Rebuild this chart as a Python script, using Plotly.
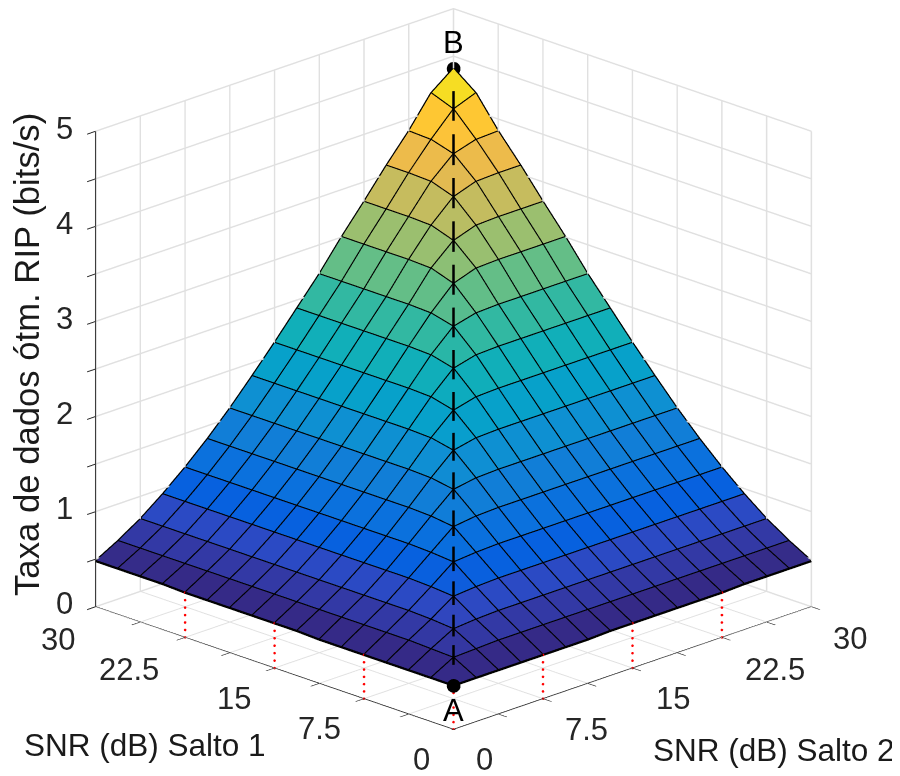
import plotly.graph_objects as go

snr = [0, 1.875, 3.75, 5.625, 7.5, 9.375, 11.25, 13.125, 15, 16.875, 18.75, 20.625, 22.5, 24.375, 26.25, 28.125, 30]
rate = [
 [.46,.46,.46,.46,.46,.46,.46,.47,.47,.47,.47,.47,.47,.48,.48,.48,.48],
 [.46,.59,.60,.61,.61,.61,.61,.61,.61,.61,.61,.61,.61,.61,.61,.61,.61],
 [.46,.60,.73,.75,.76,.76,.76,.76,.76,.76,.76,.76,.76,.76,.76,.76,.76],
 [.46,.61,.75,.91,.93,.94,.94,.94,.94,.94,.94,.94,.94,.94,.94,.94,.94],
 [.46,.61,.76,.93,1.11,1.13,1.14,1.14,1.14,1.14,1.14,1.14,1.14,1.14,1.14,1.14,1.14],
 [.46,.61,.76,.94,1.13,1.32,1.35,1.36,1.36,1.36,1.36,1.36,1.36,1.36,1.36,1.36,1.36],
 [.46,.61,.76,.94,1.14,1.35,1.55,1.59,1.60,1.60,1.60,1.60,1.60,1.60,1.60,1.60,1.60],
 [.47,.61,.76,.94,1.14,1.36,1.59,1.80,1.85,1.86,1.86,1.86,1.86,1.86,1.86,1.86,1.86],
 [.47,.61,.76,.94,1.14,1.36,1.60,1.85,2.06,2.12,2.13,2.13,2.13,2.13,2.13,2.13,2.13],
 [.47,.61,.76,.94,1.14,1.36,1.60,1.86,2.12,2.34,2.40,2.41,2.41,2.41,2.41,2.41,2.41],
 [.47,.61,.76,.94,1.14,1.36,1.60,1.86,2.13,2.40,2.62,2.68,2.69,2.69,2.69,2.69,2.69],
 [.47,.61,.76,.94,1.14,1.36,1.60,1.86,2.13,2.41,2.68,2.91,2.99,3.00,3.00,3.00,3.00],
 [.47,.61,.76,.94,1.14,1.36,1.60,1.86,2.13,2.41,2.69,2.99,3.20,3.28,3.29,3.29,3.29],
 [.48,.61,.76,.94,1.14,1.36,1.60,1.86,2.13,2.41,2.69,3.00,3.28,3.50,3.58,3.59,3.59],
 [.48,.61,.76,.94,1.14,1.36,1.60,1.86,2.13,2.41,2.69,3.00,3.29,3.58,3.79,3.86,3.87],
 [.48,.61,.76,.94,1.14,1.36,1.60,1.86,2.13,2.41,2.69,3.00,3.29,3.59,3.86,4.10,4.19],
 [.48,.61,.76,.94,1.14,1.36,1.60,1.86,2.13,2.41,2.69,3.00,3.29,3.59,3.87,4.19,4.37],
]
snr_ticks = [0, 3.75, 7.5, 11.25, 15, 18.75, 22.5, 26.25, 30]
snr_labels = [0, 7.5, 15, 22.5, 30]
snr_label_text = ["0", "7.5", "15", "22.5", "30"]
rate_ticks = [0, .5, 1, 1.5, 2, 2.5, 3, 3.5, 4, 4.5, 5]
rate_labels = [0, 1, 2, 3, 4, 5]
red_marks = [0, 7.5, 15, 22.5]
parula = [
 [0.000,"#352a87"],[0.063,"#3244ba"],[0.095,"#2053d4"],[0.127,"#0363e1"],[0.190,"#0d75dc"],
 [0.254,"#1485d4"],[0.317,"#0998d1"],[0.381,"#06a7c6"],[0.444,"#15b1b4"],[0.508,"#38b99e"],
 [0.571,"#65be86"],[0.635,"#92bf73"],[0.698,"#b7bd64"],[0.762,"#d9ba56"],[0.825,"#f8bb44"],
 [0.873,"#fec832"],[0.937,"#f5de22"],[1.000,"#f9fb0e"],
]

n = len(snr)
vx, vy, vz, fi, fj, fk, cell = [], [], [], [], [], [], []
for a in range(n):
    for b in range(n):
        vx.append(snr[b]); vy.append(snr[a]); vz.append(rate[a][b])
for a in range(n - 1):
    for b in range(n - 1):
        p = a * n + b
        fi += [p, p]
        fj += [p + 1, p + n + 1]
        fk += [p + n + 1, p + n]
        cell += [rate[a][b], rate[a][b]]

fig = go.Figure()
fig.add_trace(go.Mesh3d(
    x=vx, y=vy, z=vz, i=fi, j=fj, k=fk, intensity=cell, intensitymode="cell",
    colorscale=parula, cmin=rate[0][0], cmax=rate[-1][-1], showscale=False, flatshading=True,
    lighting=dict(ambient=1, diffuse=0, specular=0, fresnel=0, roughness=1),
    hoverinfo="skip"))

wx, wy, wz = [], [], []
for a in range(n):
    for b in range(n):
        wx.append(snr[b]); wy.append(snr[a]); wz.append(rate[a][b])
    wx.append(None); wy.append(None); wz.append(None)
    for b in range(n):
        wx.append(snr[a]); wy.append(snr[b]); wz.append(rate[b][a])
    wx.append(None); wy.append(None); wz.append(None)
fig.add_trace(go.Scatter3d(x=wx, y=wy, z=wz, mode="lines", line=dict(color="black", width=4.5), hoverinfo="skip"))

rx, ry, rz = [], [], []
dots = 6
for v in red_marks:
    idx = snr.index(v)
    for q in range(dots + 1):
        rx += [v, 0]
        ry += [0, v]
        rz += [rate[0][idx] * q / dots, rate[idx][0] * q / dots]
fig.add_trace(go.Scatter3d(x=rx, y=ry, z=rz, mode="markers", marker=dict(color="#ff0000", size=1.5, line=dict(width=0)), hoverinfo="skip"))

diag = [rate[a][a] for a in range(n)]
dx, dy, dz = [], [], []
for a in range(1, n - 1):
    lo, hi = 0.25, 0.45
    dx += [snr[a] + lo * (snr[a-1] - snr[a]), snr[a], snr[a] + hi * (snr[a+1] - snr[a]), None]
    dy += [snr[a] + lo * (snr[a-1] - snr[a]), snr[a], snr[a] + hi * (snr[a+1] - snr[a]), None]
    dz += [diag[a] + lo * (diag[a-1] - diag[a]), diag[a], diag[a] + hi * (diag[a+1] - diag[a]), None]
fig.add_trace(go.Scatter3d(x=dx, y=dy, z=dz, mode="lines", line=dict(color="black", width=5), hoverinfo="skip"))
fig.add_trace(go.Scatter3d(x=[snr[0], snr[-1]], y=[snr[0], snr[-1]], z=[diag[0], diag[-1]], mode="markers",
                           marker=dict(color="black", size=8), hoverinfo="skip"))

def axis(vals, rng):
    return dict(range=rng, tickvals=vals, showticklabels=False, title=dict(text=""), showbackground=False,
                showgrid=True, gridcolor="#e0e0e0", gridwidth=3, showline=True, linecolor="#262626", linewidth=2,
                ticks="outside", ticklen=12, tickcolor="#262626", tickwidth=2,
                zeroline=False, showspikes=False, autorange=False)

tick_font = dict(family="Liberation Sans", size=31, color="#262626")
left_shift = {0: (-32, -30), 7.5: (-45, -30), 15: (-41, -31), 22.5: (-56, -32), 30: (-38, -33)}
right_shift = {0: (31, -30), 7.5: (44, -31), 15: (41, -31), 22.5: (53, -32), 30: (39, -32)}
scene_notes = []
for v, t in zip(snr_labels, snr_label_text):
    s = left_shift[v]
    scene_notes.append(dict(x=0, y=v, z=0, text=t, showarrow=False, xshift=s[0], yshift=s[1], font=tick_font))
    s = right_shift[v]
    scene_notes.append(dict(x=v, y=0, z=0, text=t, showarrow=False, xshift=s[0], yshift=s[1], font=tick_font))
for v in rate_labels:
    scene_notes.append(dict(x=0, y=30, z=v, text=str(v), showarrow=False, xshift=-31, yshift=3, font=tick_font))
scene_notes.append(dict(x=snr[0], y=snr[0], z=diag[0], text="A", showarrow=False, yshift=-25, font=dict(family="Liberation Sans", size=31, color="black")))
scene_notes.append(dict(x=snr[-1], y=snr[-1], z=diag[-1], text="B", showarrow=False, yshift=26, font=dict(family="Liberation Sans", size=31, color="black")))

fig.update_layout(
    width=900, height=776, margin=dict(l=0, r=0, t=0, b=0), paper_bgcolor="white", showlegend=False,
    font=dict(family="Liberation Sans", color="#262626"),
    scene=dict(
        domain=dict(x=[0, 0.99], y=[0.07, 1]),
        xaxis=axis(snr_ticks, [0, 30]),
        yaxis=axis(snr_ticks, [0, 30]),
        zaxis=axis(rate_ticks, [0, 5]),
        aspectmode="manual", aspectratio=dict(x=1.402, y=1.402, z=1.402),
        camera=dict(eye=dict(x=-0.944, y=-0.944, z=0.487), center=dict(x=0, y=0, z=0), up=dict(x=0, y=0, z=1),
                    projection=dict(type="orthographic")),
        annotations=scene_notes),
    annotations=[
        dict(xref="paper", yref="paper", x=137/900, y=1-737/776, xanchor="center", yanchor="middle", text="SNR (dB) Salto 1", showarrow=False, font=dict(family="Liberation Sans", size=31.5, color="#1a1a1a")),
        dict(xref="paper", yref="paper", x=766/900, y=1-742/776, xanchor="center", yanchor="middle", text="SNR (dB) Salto 2", showarrow=False, font=dict(family="Liberation Sans", size=31.5, color="#1a1a1a")),
        dict(xref="paper", yref="paper", x=19/900, y=1-347/776, xanchor="center", yanchor="middle", text="Taxa de dados ótm. RIP (bits/s)", textangle=-90, showarrow=False, font=dict(family="Liberation Sans", size=34.7, color="#1a1a1a")),
    ])
fig.write_html("out.html")
